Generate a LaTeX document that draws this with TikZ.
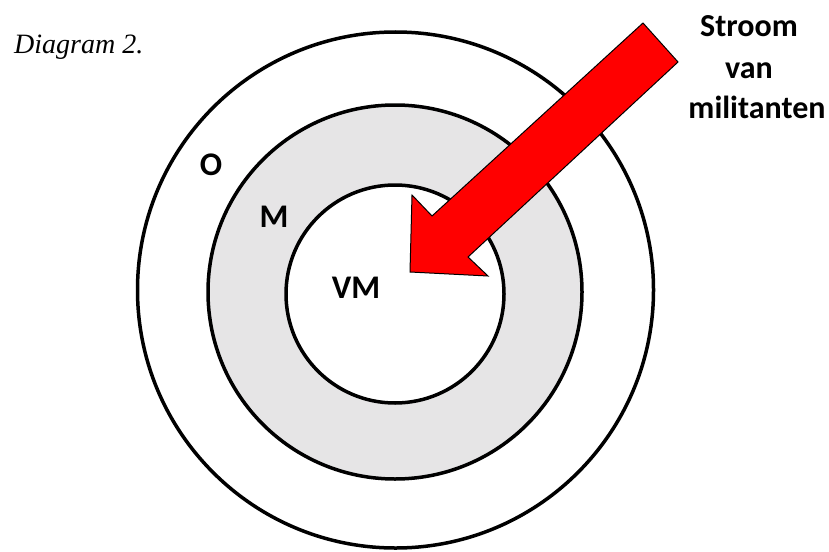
\documentclass[tikz,border=0pt]{standalone}
\usepackage{fontspec}
\newfontfamily\labfont{Carlito}
\newfontfamily\titlefont{Liberation Serif}
\definecolor{ringgray}{RGB}{230,229,230}
\definecolor{arrowred}{RGB}{255,0,0}
\tikzset{
  ring/.style={circle, draw=black, line width=3.5pt, inner sep=0pt},
  lab/.style={font=\labfont\bfseries\fontsize{33}{40}\selectfont, inner sep=0pt},
  flowtext/.style={font=\labfont\bfseries\fontsize{32}{40}\selectfont, inner sep=0pt, anchor=base},
  titletext/.style={font=\titlefont\itshape\fontsize{28}{32}\selectfont, inner sep=0pt, anchor=base west},
  flow/.style={fill=arrowred, draw=black, line width=1pt, line join=miter}
}
\begin{document}
\begin{tikzpicture}[x=1pt,y=-1pt]
  \useasboundingbox (0,0) rectangle (829,551);
  % rings
  \node[ring, fill=white, minimum size=516pt] (outer) at (395.5,290) {};
  \node[ring, fill=ringgray, minimum size=374pt] (middle) at (395,292) {};
  \node[ring, fill=white, minimum size=218pt] (inner) at (395,294) {};
  % arrow
  \draw[flow] (643,23) -- (678,62) -- (468,257) -- (488,276) -- (410,272)
     -- (412,195) -- (432,216) -- cycle;
  % labels
  \node[lab] (o) at (211,165) {O};
  \node[lab] (m) at (274,217) {M};
  \node[lab] (vm) at (356,288) {VM};
  \node[flowtext] (s1) at (749,37) {Stroom};
  \node[flowtext] (s2) at (749,78) {van};
  \node[flowtext] (s3) at (757,118) {militanten};
  \node[titletext] (title) at (14,53) {Diagram 2.};
\end{tikzpicture}
\end{document}
